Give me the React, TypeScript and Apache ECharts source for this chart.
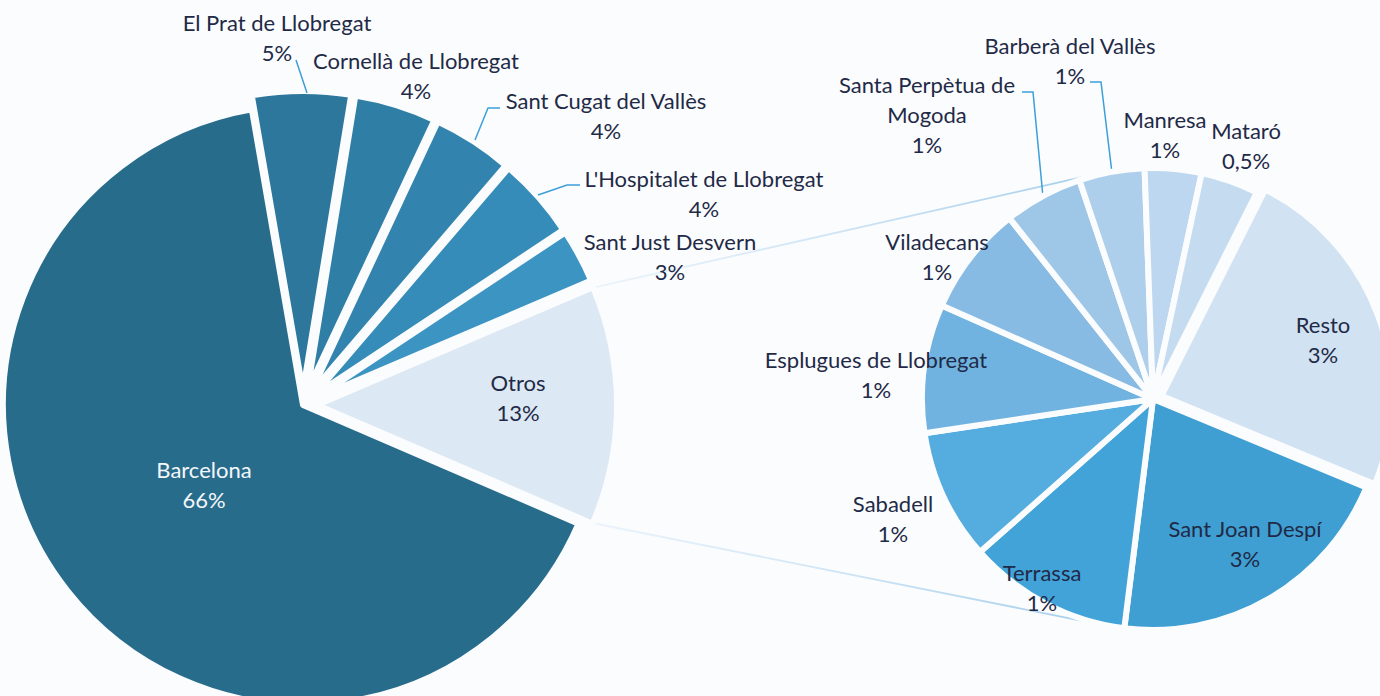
import React, { useEffect, useRef } from "react";
import * as echarts from "echarts";

// ---------- data ----------
const MAIN_CATEGORIES = [
  "Barcelona",
  "El Prat de Llobregat",
  "Cornellà de Llobregat",
  "Sant Cugat del Vallès",
  "L'Hospitalet de Llobregat",
  "Sant Just Desvern",
  "Otros",
];
const MAIN_VALUES = [65.8, 5.3, 4.4, 4.3, 4.4, 2.9, 12.9];
const MAIN_LABELS = ["66%", "5%", "4%", "4%", "4%", "3%", "13%"];

const OTROS_CATEGORIES = [
  "Resto",
  "Sant Joan Despí",
  "Terrassa",
  "Sabadell",
  "Esplugues de Llobregat",
  "Viladecans",
  "Santa Perpètua de Mogoda",
  "Barberà del Vallès",
  "Manresa",
  "Mataró",
];
const OTROS_VALUES = [3.07, 2.67, 1.48, 1.18, 1.16, 0.99, 0.71, 0.59, 0.51, 0.52];
const OTROS_LABELS = ["3%", "3%", "1%", "1%", "1%", "1%", "1%", "1%", "1%", "0,5%"];

// ---------- styles / layout ----------
const W = 1380;
const H = 696;
const BG = "#fbfcfe";
const TEXT = "#1f2a46";
const LEADER = "#3c9fd9";
const FONT = "Lato, 'Noto Sans', sans-serif";
const FONT_SIZE = 22;
const LINE_H = 30;
const GAP = 6;
const TRANSPARENT = "rgba(0,0,0,0)";

const MAIN_COLORS = ["#286c8c", "#2d779c", "#2f7ea5", "#3284ae", "#368cb8", "#3b94c2", "#dce8f4"];
const MAIN_LABEL_COLORS = ["#f4f7fb", TEXT, TEXT, TEXT, TEXT, TEXT, TEXT];
const OTROS_COLORS = [
  "#d1e2f2", "#3f9fd2", "#42a3d8", "#55acdf", "#71b3e0",
  "#88bbe3", "#9ec7e7", "#aecfeb", "#bcd7ef", "#c5dcf0",
];
const OTROS_LABEL_COLORS = OTROS_COLORS.map(() => TEXT);

type Geo = { cx: number; cy: number; r: number; startCompass: number; explode: number };
const LEFT: Geo = { cx: 303, cy: 405, r: 300, startCompass: 113.3, explode: 14 };
const RIGHT: Geo = { cx: 1153, cy: 399, r: 231, startCompass: 26.7, explode: 9 };
const CONNECT_SPREAD = 72; // degrees from the left horizontal on the second pie

const MAIN_EXPLODED = [false, true, true, true, true, true, true];
const OTROS_EXPLODED = [true, false, false, false, false, false, false, false, false, false];

const MAIN_LABEL_POS: number[][] = [
  [204, 484], [277, 37], [416, 75], [606, 115], [704, 193], [670, 256], [518, 397],
];
const OTROS_LABEL_POS: number[][] = [
  [1323, 339], [1245, 543], [1042, 587], [893, 518], [876, 374],
  [937, 256], [927, 114], [1070, 60], [1165, 134], [1246, 145],
];
const MAIN_LEADERS: (number[][] | null)[] = [
  null,
  [[307, 93], [296, 60], [296, 60]],
  null,
  [[475, 140], [488, 108], [500, 108]],
  [[538, 195], [567, 185], [580, 185]],
  null,
  null,
];
const OTROS_LEADERS: (number[][] | null)[] = [
  null, null, null, null, null, null,
  [[1043, 197], [1033, 92], [1022, 92]],
  [[1112, 173], [1101, 82], [1090, 82]],
  null, null,
];

function displayName(n: string) {
  return n === "Santa Perpètua de Mogoda" ? "Santa Perpètua de\nMogoda" : n;
}

// compass angles (clockwise from 12 o'clock) of each slice, from the data
function sliceAngles(vals: number[], startCompass: number) {
  const total = vals.reduce((a, b) => a + b, 0);
  let acc = startCompass;
  return vals.map((v) => {
    const a0 = acc;
    acc += (v / total) * 360;
    return [a0, acc];
  });
}

function polar(cx: number, cy: number, r: number, deg: number) {
  const a = (deg * Math.PI) / 180;
  return [cx + r * Math.sin(a), cy - r * Math.cos(a)];
}

function explodeOffset(geo: Geo, ang: number[]) {
  const mid = (ang[0] + ang[1]) / 2;
  return polar(0, 0, geo.explode, mid);
}

const baseSeries = (geo: Geo, center: number[]) => ({
  type: "pie",
  center,
  radius: geo.r,
  startAngle: 90 - geo.startCompass,
  clockwise: true,
  avoidLabelOverlap: false,
  silent: true,
  emphasis: { disabled: true },
});

// Labels + non-exploded slices
function labelSeries(
  cats: string[],
  vals: number[],
  labels: string[],
  colors: string[],
  labelColors: string[],
  exploded: boolean[],
  pos: number[][],
  leaders: (number[][] | null)[],
  geo: Geo
) {
  return {
    ...baseSeries(geo, [geo.cx, geo.cy]),
    z: 3,
    label: {
      show: true,
      fontFamily: FONT,
      fontSize: FONT_SIZE,
      lineHeight: LINE_H,
      align: "center",
      formatter: (p: any) => `${displayName(p.name)}\n${labels[p.dataIndex]}`,
    },
    labelLine: { show: false, lineStyle: { color: LEADER, width: 1.5 } },
    labelLayout: (p: any) => {
      const i = p.dataIndex;
      const res: any = { x: pos[i][0], y: pos[i][1], align: "center", verticalAlign: "middle" };
      if (leaders[i]) res.labelLinePoints = leaders[i];
      return res;
    },
    data: cats.map((c, i) => ({
      name: c,
      value: vals[i],
      itemStyle: exploded[i]
        ? { color: TRANSPARENT, borderWidth: 0 }
        : { color: colors[i], borderColor: BG, borderWidth: GAP },
      label: {
        position: leaders[i] ? "outside" : "inside",
        color: labelColors[i],
      },
      labelLine: { show: !!leaders[i] },
    })),
  };
}

// One series per exploded slice, shifted along the slice's bisector
function explodedSeries(cats: string[], vals: number[], colors: string[], exploded: boolean[], geo: Geo) {
  const angs = sliceAngles(vals, geo.startCompass);
  const out: any[] = [];
  exploded.forEach((ex, k) => {
    if (!ex) return;
    const off = explodeOffset(geo, angs[k]);
    out.push({
      ...baseSeries(geo, [geo.cx + off[0], geo.cy + off[1]]),
      z: 2,
      label: { show: false },
      labelLine: { show: false },
      data: cats.map((c, i) => ({
        name: c,
        value: vals[i],
        itemStyle:
          i === k
            ? { color: colors[i], borderColor: BG, borderWidth: GAP }
            : { color: TRANSPARENT, borderWidth: 0 },
      })),
    });
  });
  return out;
}

function App() {
  const ref = useRef<HTMLDivElement>(null);
  useEffect(() => {
    document.body.style.margin = "0";
    document.body.style.background = BG;
    if (!ref.current) return;
    const chart = echarts.init(ref.current, undefined, { renderer: "svg" });

    // connector geometry derived from the data
    const angs = sliceAngles(MAIN_VALUES, LEFT.startCompass);
    const oi = MAIN_CATEGORIES.indexOf("Otros");
    const off = explodeOffset(LEFT, angs[oi]);
    const rv = LEFT.r - GAP / 2;
    const a0 = polar(LEFT.cx + off[0], LEFT.cy + off[1], rv, angs[oi][0]);
    const a1 = polar(LEFT.cx + off[0], LEFT.cy + off[1], rv, angs[oi][1]);
    const b0 = polar(RIGHT.cx, RIGHT.cy, RIGHT.r + 2, 270 + CONNECT_SPREAD);
    const b1 = polar(RIGHT.cx, RIGHT.cy, RIGHT.r + 2, 270 - CONNECT_SPREAD);
    const grad = () =>
      new echarts.graphic.LinearGradient(0, 0, 1, 0, [
        { offset: 0, color: "rgba(225,238,249,0.6)" },
        { offset: 1, color: "#a6cfec" },
      ]);

    chart.setOption({
      animation: false,
      backgroundColor: BG,
      graphic: [
        {
          type: "line",
          z: 1,
          shape: { x1: a0[0], y1: a0[1], x2: b0[0], y2: b0[1] },
          style: { stroke: grad(), lineWidth: 1.8 },
        },
        {
          type: "line",
          z: 1,
          shape: { x1: a1[0], y1: a1[1], x2: b1[0], y2: b1[1] },
          style: { stroke: grad(), lineWidth: 1.8 },
        },
      ],
      series: [
        ...explodedSeries(MAIN_CATEGORIES, MAIN_VALUES, MAIN_COLORS, MAIN_EXPLODED, LEFT),
        ...explodedSeries(OTROS_CATEGORIES, OTROS_VALUES, OTROS_COLORS, OTROS_EXPLODED, RIGHT),
        labelSeries(
          MAIN_CATEGORIES,
          MAIN_VALUES,
          MAIN_LABELS,
          MAIN_COLORS,
          MAIN_LABEL_COLORS,
          MAIN_EXPLODED,
          MAIN_LABEL_POS,
          MAIN_LEADERS,
          LEFT
        ),
        labelSeries(
          OTROS_CATEGORIES,
          OTROS_VALUES,
          OTROS_LABELS,
          OTROS_COLORS,
          OTROS_LABEL_COLORS,
          OTROS_EXPLODED,
          OTROS_LABEL_POS,
          OTROS_LEADERS,
          RIGHT
        ),
      ],
    });
    return () => chart.dispose();
  }, []);
  return <div ref={ref} style={{ width: W, height: H }} />;
}

export default App;
